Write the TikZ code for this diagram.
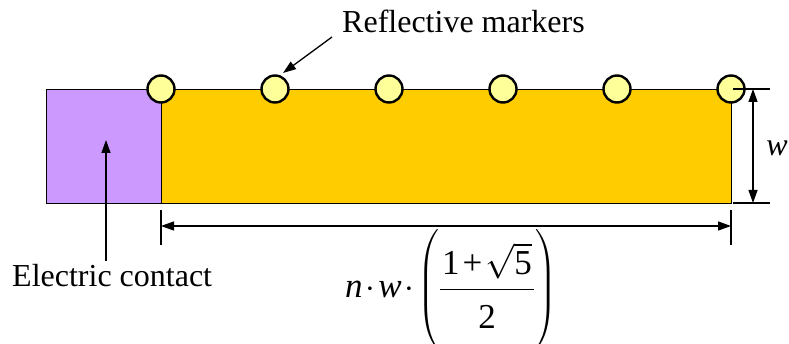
\RequirePackage{fix-cm}
\documentclass[tikz,border=0pt]{standalone}
\usepackage{fontspec}
\usepackage{amsmath}
\setmainfont{Liberation Serif}
\usetikzlibrary{arrows.meta}
\definecolor{contactpurple}{HTML}{CC99FF}
\definecolor{stripgold}{HTML}{FFCC00}
\definecolor{markeryellow}{HTML}{FFFF99}
\begin{document}
\begin{tikzpicture}[x=1pt,y=-1pt,
  lbl/.style={font=\fontsize{32}{38}\selectfont, inner sep=0pt},
  mathlbl/.style={font=\fontsize{35}{42}\selectfont, inner sep=0pt},
  block/.style={draw=black, line width=0.9pt, anchor=north west, inner sep=0pt},
  marker/.style={circle, draw=black, line width=2.4pt, fill=markeryellow, minimum size=27pt, inner sep=0pt},
  pointer/.style={line width=1.3pt, -{Triangle[length=13pt,width=9pt]}},
  dimline/.style={line width=1.3pt, {Triangle[length=13pt,width=9pt]}-{Triangle[length=13pt,width=9pt]}},
  extline/.style={line width=1.3pt}]
\path[use as bounding box] (0,0) rectangle (789,344);

% blocks
\node[block, fill=contactpurple, minimum width=115pt, minimum height=114pt] (contact) at (46,89) {};
\node[block, fill=stripgold, minimum width=570pt, minimum height=114pt] (strip) at (161,89) {};

% markers
\foreach \i in {0,...,5}
  \node[marker] (m\i) at (161+114*\i,89) {};

% reflective markers label
\node[lbl, anchor=base west] (rm) at (342,33) {Reflective markers};
\coordinate (rmtail) at (332,37);
\coordinate (rmtip) at (283,73);
\draw[pointer] (rmtail) -- (rmtip);

% electric contact label
\node[lbl, anchor=base west] (ec) at (12,287) {Electric contact};
\coordinate (ectail) at (106,261);
\coordinate (ectip) at (106,140);
\draw[pointer] (ectail) -- (ectip);

% bottom dimension
\coordinate (bl1) at (161,210); \coordinate (bl2) at (161,245);
\coordinate (br1) at (731,210); \coordinate (br2) at (731,245);
\draw[extline] (bl1) -- (bl2);
\draw[extline] (br1) -- (br2);
\coordinate (bda) at (161,226); \coordinate (bdb) at (731,226);
\draw[dimline] (bda) -- (bdb);

% right dimension
\coordinate (rt1) at (733,89); \coordinate (rt2) at (770,89);
\coordinate (rb1) at (733,203); \coordinate (rb2) at (770,203);
\draw[extline] (rt1) -- (rt2);
\draw[extline] (rb1) -- (rb2);
\coordinate (rda) at (753,89); \coordinate (rdb) at (753,203);
\draw[dimline] (rda) -- (rdb);
\node[lbl, anchor=center] (w) at (777,148) {\itshape w};

% formula
\node[mathlbl, anchor=base west] (formula) at (345,298)
  {$\medmuskip=1.5mu\text{\itshape n}\cdot\text{\itshape w}\cdot\left(\vrule height 64pt depth 46pt width 0pt\dfrac{\hspace{2pt}\text{1}\mathbin{\text{+}}\sqrt{\text{5}}\hspace{2pt}}{\raisebox{-6pt}{2}}\right)$};
\end{tikzpicture}
\end{document}
